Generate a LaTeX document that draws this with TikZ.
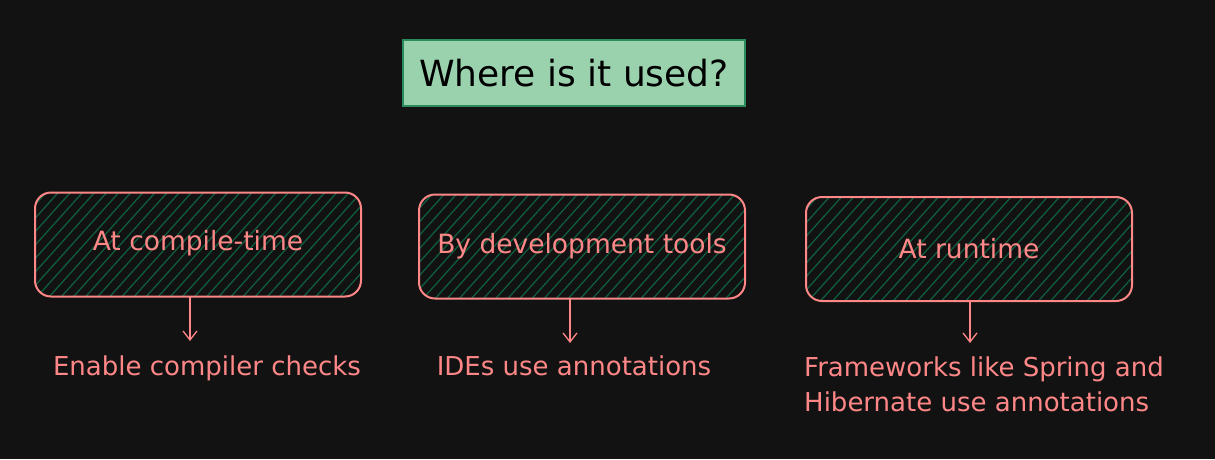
\documentclass[tikz,border=0pt]{standalone}
\usepackage{fontspec}
\setmainfont{DejaVu Sans}
\usetikzlibrary{arrows.meta,patterns.meta}
\definecolor{bg}{HTML}{121212}
\definecolor{titlefill}{HTML}{9AD2AE}
\definecolor{titledraw}{HTML}{2B8A5E}
\definecolor{boxred}{HTML}{FF8787}
\definecolor{hatch}{HTML}{0E5E3E}
\tikzset{
  titlebox/.style={draw=titledraw, line width=2.5pt, fill=titlefill, minimum width=342pt, minimum height=66pt, inner sep=0pt, font=\fontsize{36}{40}\selectfont, text=black},
  itembox/.style={draw=boxred, line width=2pt, rounded corners=16pt, minimum width=326pt, minimum height=104pt, inner sep=0pt,
    pattern={Lines[angle=48,distance=9pt,line width=1.3pt]}, pattern color=hatch},
  boxtext/.style={text=boxred, font=\fontsize{26.5}{30}\selectfont, inner sep=0pt},
  itemlabel/.style={text=boxred, font=\fontsize{26}{35}\selectfont, inner sep=0pt},
  itemarrow/.style={draw=boxred, line width=1.3pt, -{Straight Barb[length=9pt,width=14pt,line width=1.3pt]}}
}
\begin{document}
\begin{tikzpicture}[x=1pt,y=-1pt]
\useasboundingbox (0,0) rectangle (1215,459);
\fill[bg] (0,0) rectangle (1215,459);
\node[titlebox] (title) at (574,73) {Where is it used?};
\node[itembox] (b1) at (198,244.5) {};
\node[boxtext] (t1) at (198,243) {At compile-time};
\node[itembox] (b2) at (582,246.5) {};
\node[boxtext] (t2) at (582,246) {By development tools};
\node[itembox] (b3) at (969,249) {};
\node[boxtext] (t3) at (969,249) {At runtime};
\coordinate (a1s) at (190,297);
\coordinate (a1e) at (190,341);
\coordinate (a2s) at (570,299);
\coordinate (a2e) at (570,343);
\coordinate (a3s) at (970,301);
\coordinate (a3e) at (970,343);
\draw[itemarrow] (a1s) -- (a1e);
\draw[itemarrow] (a2s) -- (a2e);
\draw[itemarrow] (a3s) -- (a3e);
\node[itemlabel] (l1) at (207,368) {Enable compiler checks};
\node[itemlabel] (l2) at (574,366) {IDEs use annotations};
\node[itemlabel, anchor=north west, align=left] (l3) at (804,357) {Frameworks like Spring and\\Hibernate use annotations};
\end{tikzpicture}
\end{document}
